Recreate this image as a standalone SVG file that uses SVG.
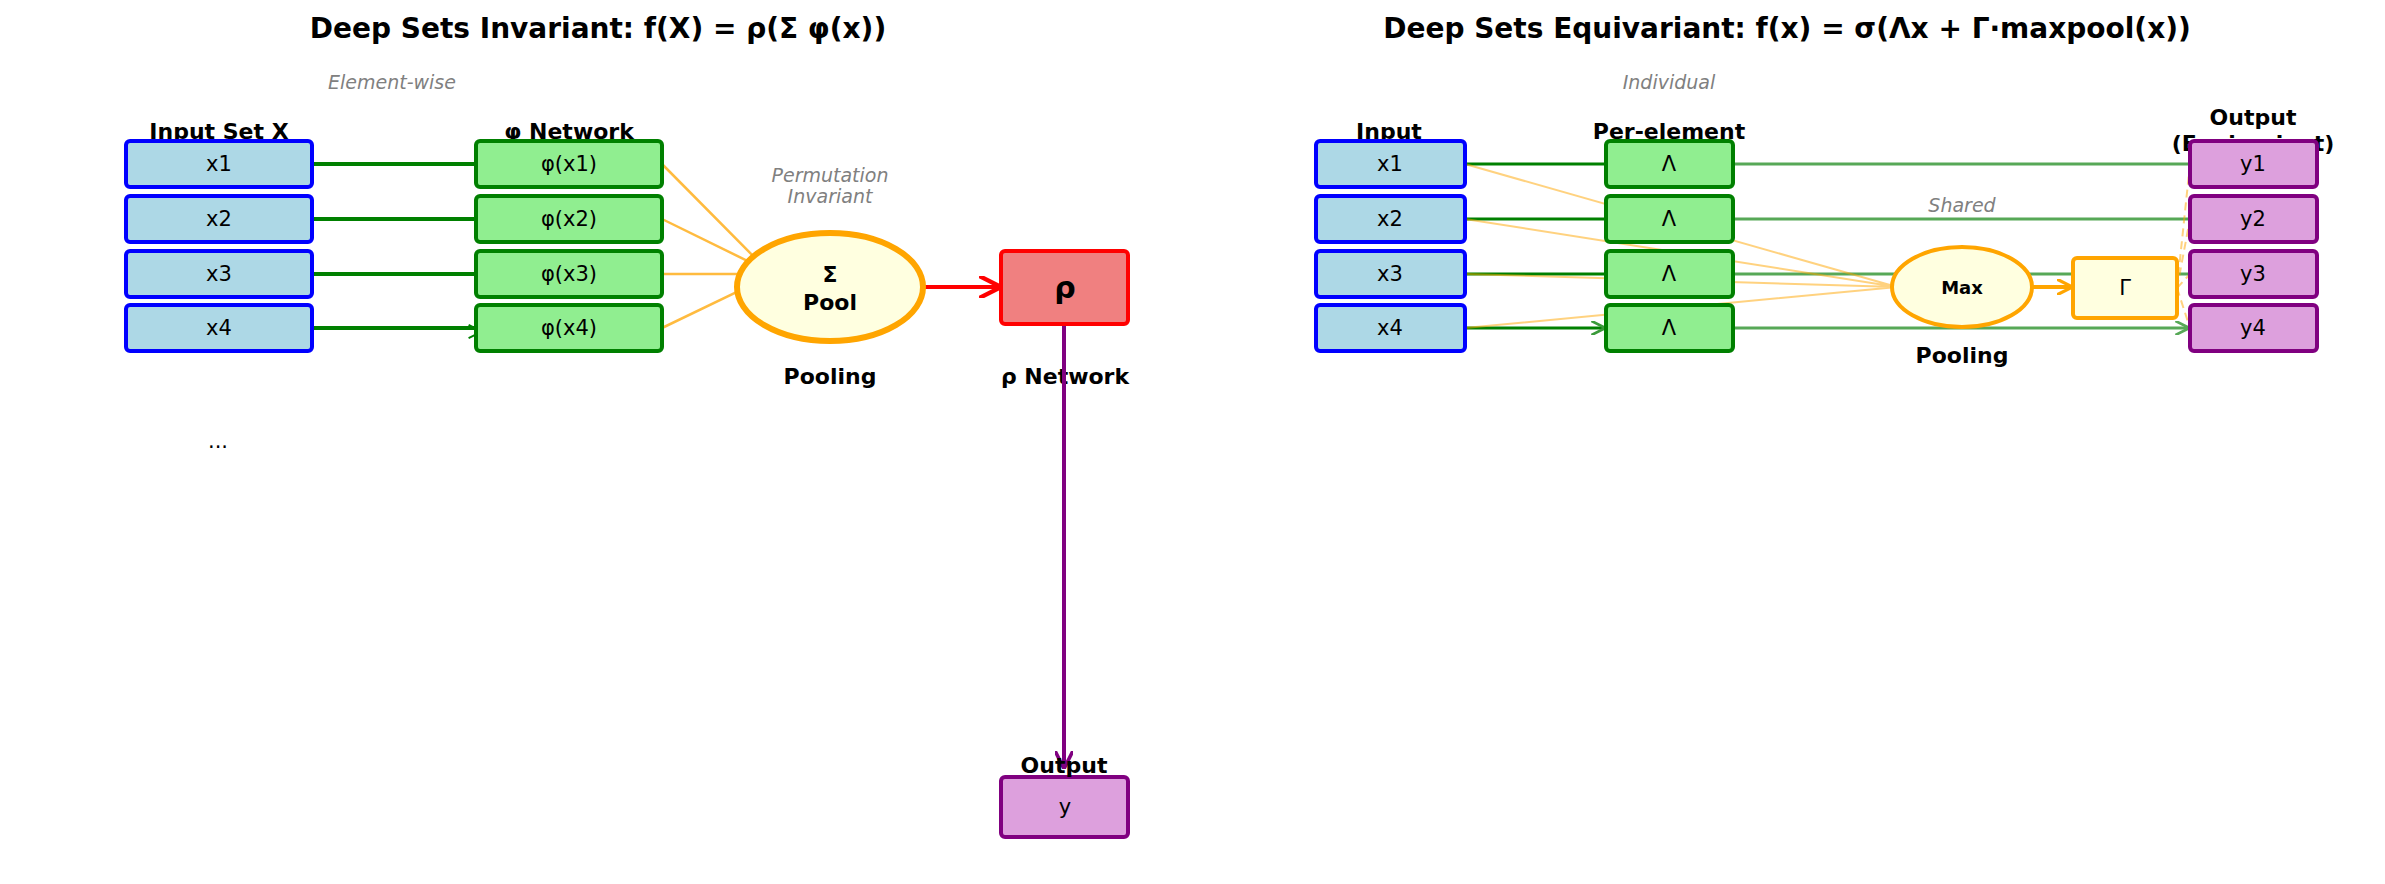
<svg xmlns="http://www.w3.org/2000/svg" width="2385" height="884" viewBox="0 0 2385 884">
<defs>
<style>
text{font-family:"DejaVu Sans",sans-serif;text-anchor:middle;dominant-baseline:central}
.t{font-size:28px;font-weight:bold}
.lb{font-size:22px;font-weight:bold}
.it{font-size:19px;font-style:italic;fill:#808080}
.bx{font-size:21px}
.in{fill:#add8e6;stroke:#0000ff;stroke-width:4}
.ph{fill:#90ee90;stroke:#008000;stroke-width:4}
.out{fill:#dda0dd;stroke:#800080;stroke-width:4}
.g{stroke:#008000;stroke-width:4;fill:none}
.o{stroke:#ffa500;stroke-width:2.5;fill:none;opacity:0.75}
</style>
<marker id="ag" viewBox="0 0 10 10" refX="9" refY="5" markerWidth="6" markerHeight="6" markerUnits="userSpaceOnUse" orient="auto" style="overflow:visible"><path d="M0,0 L10,5 L0,10" fill="none" stroke="#008000" stroke-width="1.5" transform="scale(2.2)" /></marker>
<marker id="agl" viewBox="0 0 10 10" refX="9" refY="5" markerWidth="14" markerHeight="14" markerUnits="userSpaceOnUse" orient="auto"><path d="M0,0 L10,5 L0,10" fill="none" stroke="#3a9a3a" stroke-width="2"/></marker>
<marker id="ao" viewBox="0 0 10 10" refX="9" refY="5" markerWidth="16" markerHeight="16" markerUnits="userSpaceOnUse" orient="auto"><path d="M0,0 L10,5 L0,10" fill="none" stroke="#ffa500" stroke-width="2"/></marker>
<marker id="ar" viewBox="0 0 10 10" refX="9" refY="5" markerWidth="22" markerHeight="22" markerUnits="userSpaceOnUse" orient="auto"><path d="M0,0 L10,5 L0,10" fill="none" stroke="#ff0000" stroke-width="2"/></marker>
<marker id="ap" viewBox="0 0 10 10" refX="9" refY="5" markerWidth="18" markerHeight="18" markerUnits="userSpaceOnUse" orient="auto"><path d="M0,0 L10,5 L0,10" fill="none" stroke="#800080" stroke-width="2"/></marker>
</defs>
<rect width="2385" height="884" fill="#fff"/>
<text class="t" x="598" y="28">Deep Sets Invariant: f(X) = ρ(Σ φ(x))</text>
<text class="t" x="1787" y="28">Deep Sets Equivariant: f(x) = σ(Λx + Γ·maxpool(x))</text>
<text class="it" x="392" y="82">Element-wise</text>
<text class="lb" x="219" y="131">Input Set X</text>
<text class="lb" x="569" y="131">φ Network</text>
<text class="it" x="830" y="175">Permutation</text>
<text class="it" x="830" y="196">Invariant</text>
<text class="lb" x="830" y="376">Pooling</text>
<text class="lb" x="1065" y="376">ρ Network</text>
<text class="bx" x="218" y="441">...</text>
<text class="it" x="1669" y="82">Individual</text>
<text class="lb" x="1389" y="131">Input</text>
<text class="lb" x="1669" y="131">Per-element</text>
<text class="lb" x="2253" y="117">Output</text>
<text class="lb" x="2253" y="143">(Equivariant)</text>
<text class="it" x="1962" y="205">Shared</text>
<text class="lb" x="1962" y="355">Pooling</text>
<g id="connectors">
<path class="g" marker-end="url(#ag)" d="M312,164H474M312,219H474M312,274H474M312,328H474"/>
<path class="o" marker-end="url(#ao)" d="M662,164L768,271M662,219L768,271M662,274L768,274M662,328L768,277"/>
<path d="M925,287H999" stroke="#ff0000" stroke-width="4" marker-end="url(#ar)"/>
<path d="M1064,324V767" stroke="#800080" stroke-width="4" marker-end="url(#ap)"/>
<path d="M1465,164H1604M1465,219H1604M1465,274H1604M1465,328H1604" stroke="#008000" stroke-width="3" marker-end="url(#agl)"/>
<path d="M1733,164H2188M1733,219H2188M1733,274H2188M1733,328H2188" stroke="#3a9a3a" stroke-width="3" opacity="0.85" marker-end="url(#agl)"/>
<path d="M1465,164L1897,287M1465,219L1897,287M1465,274L1897,287M1465,328L1897,287" stroke="#ffa500" stroke-width="2" opacity="0.5" fill="none"/>
<path d="M2032,287H2071" stroke="#ffa500" stroke-width="4" marker-end="url(#ao)"/>
<path d="M2177,288L2190,164M2177,288L2190,219M2177,288L2190,274M2177,288L2190,328" stroke="#ffa500" stroke-width="2" stroke-dasharray="8,5" opacity="0.5" fill="none"/>
</g>
<g id="x1"><rect class="in" x="126" y="141" width="186" height="46" rx="4"/><text class="bx" x="219" y="164">x1</text></g>
<g id="x2"><rect class="in" x="126" y="196" width="186" height="46" rx="4"/><text class="bx" x="219" y="219">x2</text></g>
<g id="x3"><rect class="in" x="126" y="251" width="186" height="46" rx="4"/><text class="bx" x="219" y="274">x3</text></g>
<g id="x4"><rect class="in" x="126" y="305" width="186" height="46" rx="4"/><text class="bx" x="219" y="328">x4</text></g>
<g id="phi1"><rect class="ph" x="476" y="141" width="186" height="46" rx="4"/><text class="bx" x="569" y="164">φ(x1)</text></g>
<g id="phi2"><rect class="ph" x="476" y="196" width="186" height="46" rx="4"/><text class="bx" x="569" y="219">φ(x2)</text></g>
<g id="phi3"><rect class="ph" x="476" y="251" width="186" height="46" rx="4"/><text class="bx" x="569" y="274">φ(x3)</text></g>
<g id="phi4"><rect class="ph" x="476" y="305" width="186" height="46" rx="4"/><text class="bx" x="569" y="328">φ(x4)</text></g>
<g id="pool"><ellipse cx="830" cy="287" rx="93" ry="54" fill="#ffffe0" stroke="#ffa500" stroke-width="6"/><text class="lb" x="830" y="274">Σ</text><text class="lb" x="830" y="302">Pool</text></g>
<g id="rho"><rect x="1001" y="251" width="127" height="73" rx="4" fill="#f08080" stroke="#ff0000" stroke-width="4"/><text x="1065" y="287" font-size="30" font-weight="bold">ρ</text></g>
<g id="y"><rect class="out" x="1001" y="777" width="127" height="60" rx="4"/><text class="bx" x="1065" y="807">y</text></g>
<text class="lb" x="1064" y="765">Output</text>
<g id="ex1"><rect class="in" x="1316" y="141" width="149" height="46" rx="4"/><text class="bx" x="1390" y="164">x1</text></g>
<g id="ex2"><rect class="in" x="1316" y="196" width="149" height="46" rx="4"/><text class="bx" x="1390" y="219">x2</text></g>
<g id="ex3"><rect class="in" x="1316" y="251" width="149" height="46" rx="4"/><text class="bx" x="1390" y="274">x3</text></g>
<g id="ex4"><rect class="in" x="1316" y="305" width="149" height="46" rx="4"/><text class="bx" x="1390" y="328">x4</text></g>
<g id="L1"><rect class="ph" x="1606" y="141" width="127" height="46" rx="4"/><text class="bx" x="1669" y="164">Λ</text></g>
<g id="L2"><rect class="ph" x="1606" y="196" width="127" height="46" rx="4"/><text class="bx" x="1669" y="219">Λ</text></g>
<g id="L3"><rect class="ph" x="1606" y="251" width="127" height="46" rx="4"/><text class="bx" x="1669" y="274">Λ</text></g>
<g id="L4"><rect class="ph" x="1606" y="305" width="127" height="46" rx="4"/><text class="bx" x="1669" y="328">Λ</text></g>
<g id="max"><ellipse cx="1962" cy="287" rx="70" ry="40" fill="#ffffe0" stroke="#ffa500" stroke-width="4"/><text x="1962" y="287" font-size="18" font-weight="bold">Max</text></g>
<g id="gamma"><rect x="2073" y="258" width="104" height="60" rx="4" fill="#ffffe0" stroke="#ffa500" stroke-width="4"/><text class="bx" x="2125" y="288">Γ</text></g>
<g id="y1"><rect class="out" x="2190" y="141" width="127" height="46" rx="4"/><text class="bx" x="2253" y="164">y1</text></g>
<g id="y2"><rect class="out" x="2190" y="196" width="127" height="46" rx="4"/><text class="bx" x="2253" y="219">y2</text></g>
<g id="y3"><rect class="out" x="2190" y="251" width="127" height="46" rx="4"/><text class="bx" x="2253" y="274">y3</text></g>
<g id="y4"><rect class="out" x="2190" y="305" width="127" height="46" rx="4"/><text class="bx" x="2253" y="328">y4</text></g>
</svg>
